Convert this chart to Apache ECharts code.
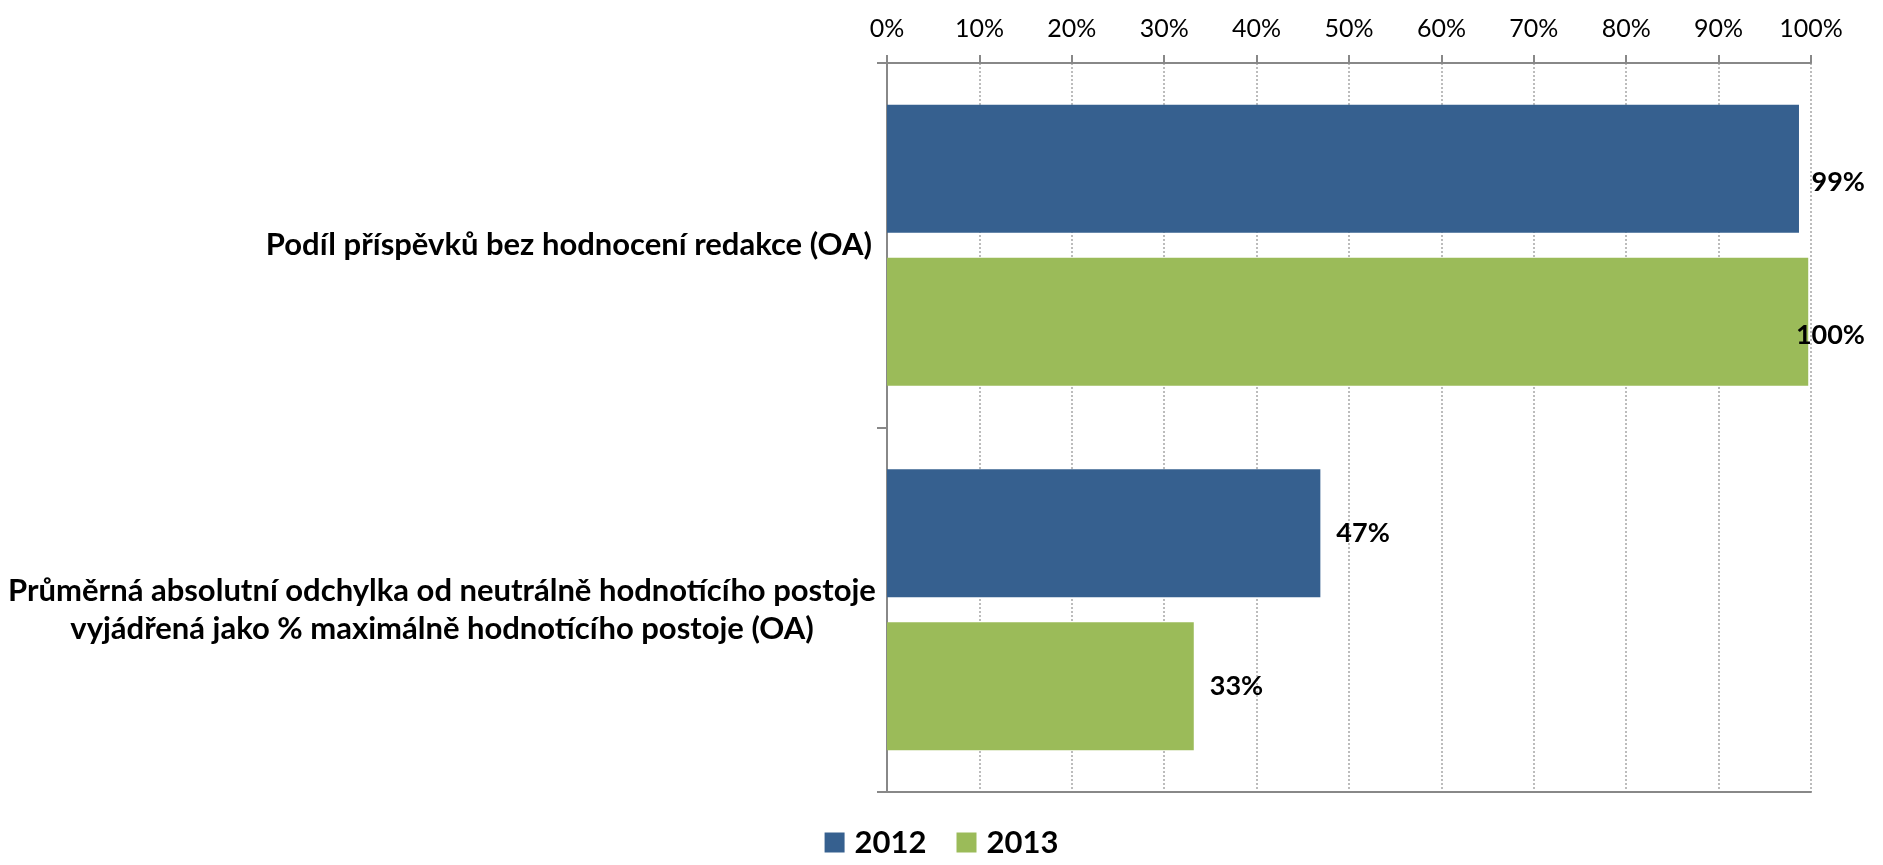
<!DOCTYPE html>
<html>
<head>
<meta charset="utf-8">
<script src="https://cdn.jsdelivr.net/npm/echarts@6/dist/echarts.min.js"></script>
<style>
html,body{margin:0;padding:0;background:#fff;}
#c{width:1883px;height:865px;}
</style>
</head>
<body>
<div id="c"></div>
<script>
var categories = [
  'Podíl příspěvků bez hodnocení redakce (OA)',
  'Průměrná absolutní odchylka od neutrálně hodnotícího postoje\nvyjádřená jako % maximálně hodnotícího postoje (OA)'
];
var seriesNames = ['2012', '2013'];
var values2012 = [98.7, 46.9];
var values2013 = [99.7, 33.2];
var tickValues = [0, 10, 20, 30, 40, 50, 60, 70, 80, 90, 100];

var FONT = 'Lato';
var chart = echarts.init(document.getElementById('c'), null, {renderer: 'canvas'});
var W = 1883;

var option = {
  backgroundColor: '#ffffff',
  animation: false,
  color: ['#36608F', '#9BBB59'],
  grid: {left: 887, right: 72, top: 63, bottom: 73, containLabel: false},
  legend: {
    data: seriesNames,
    bottom: 2,
    left: 'center',
    icon: 'rect',
    itemWidth: 20,
    itemHeight: 20,
    itemGap: 30,
    textStyle: {fontFamily: FONT, fontSize: 31, fontWeight: 'bold', color: '#000', padding: [0, 0, 0, 5]}
  },
  xAxis: [{
    type: 'value',
    position: 'top',
    min: tickValues[0],
    max: tickValues[tickValues.length - 1],
    interval: 10,
    axisLine: {show: true, lineStyle: {color: '#888888', width: 2}},
    axisTick: {show: true, length: 8, lineStyle: {color: '#888888', width: 2}},
    axisLabel: {formatter: '{value}%', fontFamily: FONT, fontSize: 25, color: '#000', margin: 22},
    splitLine: {show: true, lineStyle: {color: '#a6a6a6', width: 1.5, type: [2, 2]}}
  }, {
    type: 'value',
    position: 'bottom',
    min: 0, max: 100,
    axisLine: {show: true, onZero: false, lineStyle: {color: '#888888', width: 2}},
    axisTick: {show: false},
    axisLabel: {show: false},
    splitLine: {show: false}
  }],
  yAxis: [{
    type: 'category',
    inverse: true,
    data: categories,
    axisLine: {show: true, lineStyle: {color: '#888888', width: 2}},
    axisTick: {show: true, length: 10, lineStyle: {color: '#888888', width: 2}},
    axisLabel: {
      margin: 15,
      fontFamily: FONT, fontSize: 31, fontWeight: 'bold', color: '#000', lineHeight: 38,
      formatter: function (v) {
        if (v.indexOf('\n') >= 0) {
          return v.split('\n').map(function (s) { return '{c|' + s + '}'; }).join('\n');
        }
        return v;
      },
      rich: {
        c: {fontFamily: FONT, fontSize: 31, fontWeight: 'bold', color: '#000', lineHeight: 38, width: 860, align: 'center'}
      }
    }
  }, {
    type: 'category',
    position: 'right',
    inverse: true,
    data: categories,
    axisLine: {show: true, lineStyle: {color: '#888888', width: 1.5}},
    axisTick: {show: false},
    axisLabel: {show: false},
    splitLine: {show: false}
  }],
  series: [
    {name: seriesNames[0], type: 'bar', data: values2012, barWidth: 128, barGap: '19.5%'},
    {name: seriesNames[1], type: 'bar', data: values2013, barWidth: 128, barGap: '19.5%'}
  ].map(function (s) {
    s.xAxisIndex = 0;
    s.yAxisIndex = 0;
    s.label = {
      show: true, position: 'right', distance: 16,
      fontFamily: FONT, fontSize: 27, fontWeight: 'bold', color: '#000',
      formatter: function (p) { return Math.round(p.value) + '%'; }
    };
    s.labelLayout = function (p) {
      var maxRight = W - 18;
      if (p.labelRect.x + p.labelRect.width > maxRight) {
        return {x: maxRight - p.labelRect.width};
      }
      return {};
    };
    return s;
  })
};
chart.setOption(option);
</script>
</body>
</html>
